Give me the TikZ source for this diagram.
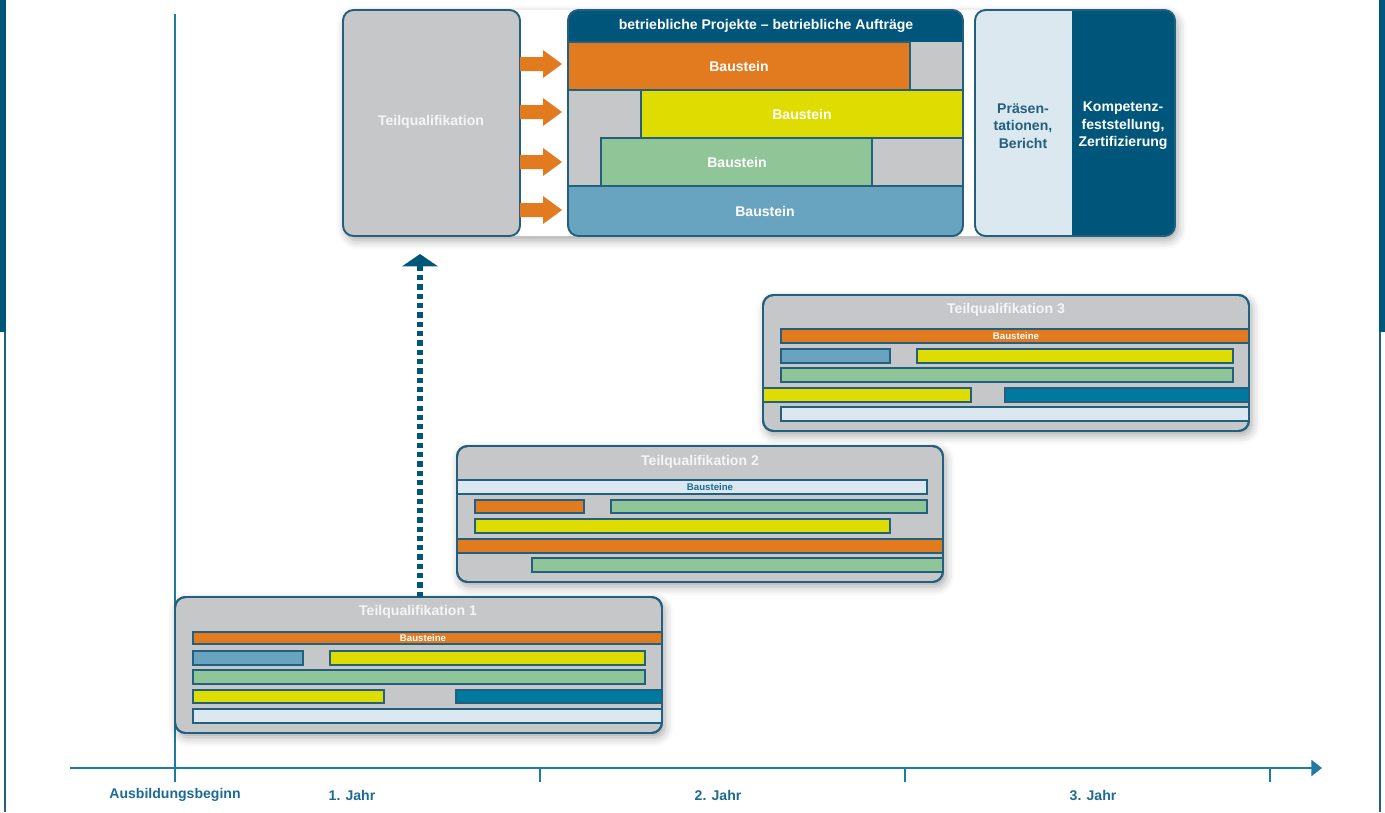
\documentclass[tikz,border=0pt]{standalone}
\usepackage{fontspec}
\setmainfont{Liberation Sans}
\usepackage{tikz}
\usetikzlibrary{arrows.meta, shadows.blur}
\definecolor{navyc}{HTML}{00557A}
\definecolor{borderc}{HTML}{235F7E}
\definecolor{axisc}{HTML}{1F7BA3}
\definecolor{labelc}{HTML}{1C6B93}
\definecolor{grayc}{HTML}{C6C7C9}
\definecolor{orangec}{HTML}{E27A20}
\definecolor{yellowc}{HTML}{DEDC00}
\definecolor{greenc}{HTML}{90C697}
\definecolor{bluec}{HTML}{68A3BF}
\definecolor{tealc}{HTML}{0079A1}
\definecolor{lightc}{HTML}{DCE8F0}

\begin{document}
\begin{tikzpicture}[x=0.02cm, y=-0.02cm,
		font=\fontsize{8}{10}\selectfont\bfseries,
		tqbox/.style={
			fill=grayc,
			draw=borderc, line width=1.1pt,
			rounded corners=6pt},
		tqframe/.style={draw=borderc, line width=1.1pt, rounded corners=6pt},
		shadowed/.style={blur shadow={shadow xshift=1.5pt, shadow yshift=-2.5pt,
			shadow opacity=35, shadow blur radius=5pt}},
		bar/.style={draw=borderc, line width=0.7pt},
		title/.style={text=white!92!gray},
		small/.style={font=\fontsize{5.5}{6.5}\selectfont\bfseries},
		axis/.style={draw=axisc, line width=1.4pt},
		dotarrow/.style={draw=navyc, line width=3.6pt, dash pattern=on 3pt off 2.3pt,
			-{Triangle[width=20pt, length=7pt]}},
		blockarrow/.style={fill=orangec}]
		\useasboundingbox (0,0) rectangle (1385,812);
		% page edges
		\fill[navyc] (0,0) rectangle (6,332);
		\draw[borderc, line width=0.6pt] (5,332) -- (5,812);
		\fill[navyc] (1379,0) rectangle (1385,332);
		\draw[borderc, line width=0.6pt] (1380,332) -- (1380,812);
		% time axis
		\coordinate (ytop) at (175,14);
		\coordinate (ybot) at (175,782);
		\coordinate (xstart) at (70,768);
		\coordinate (xend) at (1322,768);
		\draw[axis] (ytop) -- (ybot);
		\draw[axis, -{Triangle[width=9pt, length=6pt]}] (xstart) -- (xend);
		\draw[axis] (540,768) -- (540,782);
		\draw[axis] (905,768) -- (905,782);
		\draw[axis] (1270,768) -- (1270,782);
		\node[text=labelc] (beginn) at (175,795) {Ausbildungsbeginn};
		\node[text=labelc] (jahr1) at (352,795) {1. Jahr};
		\node[text=labelc] (jahr2) at (718,795) {2. Jahr};
		\node[text=labelc] (jahr3) at (1093,795) {3. Jahr};
		% top block
		\path[fill=white, shadowed, rounded corners=7pt] (343,10) rectangle (1175,236);
		\draw[tqbox] (343,10) rectangle (520,236);
		\node[title] (tqall) at (431,122) {Teilqualifikation};
		\fill[blockarrow] (520,57) -- ++(23,0) -- ++(0,-7) -- ++(19,14) -- ++(-19,14) -- ++(0,-7) -- ++(-23,0) -- cycle;
		\fill[blockarrow] (520,105) -- ++(23,0) -- ++(0,-7) -- ++(19,14) -- ++(-19,14) -- ++(0,-7) -- ++(-23,0) -- cycle;
		\fill[blockarrow] (520,155) -- ++(23,0) -- ++(0,-7) -- ++(19,14) -- ++(-19,14) -- ++(0,-7) -- ++(-23,0) -- cycle;
		\fill[blockarrow] (520,203) -- ++(23,0) -- ++(0,-7) -- ++(19,14) -- ++(-19,14) -- ++(0,-7) -- ++(-23,0) -- cycle;
		\begin{scope}
			\clip[rounded corners=6pt] (568,10) rectangle (963,236);
			\fill[navyc] (568,10) rectangle (963,42);
			\fill[grayc] (568,42) rectangle (963,186);
			\draw[bar, fill=orangec] (568,42) rectangle (910,90);
			\draw[bar, fill=yellowc] (641,90) rectangle (963,138);
			\draw[bar, fill=greenc] (601,138) rectangle (872,186);
			\draw[bar, fill=bluec] (568,186) rectangle (963,236);
		\end{scope}
		\draw[tqframe] (568,10) rectangle (963,236);
		\node[text=white] (auftraege) at (766,26) {betriebliche Projekte – betriebliche Aufträge};
		\node[text=white] (bst1) at (739,66) {Baustein};
		\node[text=white] (bst2) at (802,114) {Baustein};
		\node[text=white] (bst3) at (737,162) {Baustein};
		\node[text=white] (bst4) at (765,211) {Baustein};
		\begin{scope}
			\clip[rounded corners=6pt] (975,10) rectangle (1175,236);
			\fill[lightc] (975,10) rectangle (1072,236);
			\fill[navyc] (1072,10) rectangle (1175,236);
		\end{scope}
		\draw[tqframe] (975,10) rectangle (1175,236);
		\node[text=borderc, align=center] (praes) at (1023,126) {Präsen-\\tationen,\\Bericht};
		\node[text=white, align=center] (kompetenz) at (1123,126) {Kompetenz-\\feststellung,\\Zertifizierung};
		% Teilqualifikation 3
		\draw[tqbox, shadowed] (763,295) rectangle (1249,431);
		\node[title] (tq3) at (1006,310) {Teilqualifikation 3};
		\draw[bar, fill=orangec] (781,329) rectangle (1249,343);
		\node[small, text=white] (bs3) at (1016,336) {Bausteine};
		\draw[bar, fill=bluec] (781,349) rectangle (890,363);
		\draw[bar, fill=yellowc] (917,349) rectangle (1233,363);
		\draw[bar, fill=greenc] (781,368) rectangle (1233,382);
		\draw[bar, fill=yellowc] (763,388) rectangle (971,402);
		\draw[bar, fill=tealc] (1005,388) rectangle (1249,402);
		\draw[bar, fill=lightc] (781,407) rectangle (1249,421);
		\draw[tqframe] (763,295) rectangle (1249,431);
		% Teilqualifikation 2
		\draw[tqbox, shadowed] (457,446) rectangle (943,582);
		\node[title] (tq2) at (700,462) {Teilqualifikation 2};
		\draw[bar, fill=lightc] (457,480) rectangle (927,494);
		\node[small, text=labelc] (bs2) at (710,487) {Bausteine};
		\draw[bar, fill=orangec] (475,500) rectangle (584,513);
		\draw[bar, fill=greenc] (611,500) rectangle (927,513);
		\draw[bar, fill=yellowc] (475,519) rectangle (890,533);
		\draw[bar, fill=orangec] (457,539) rectangle (943,553);
		\draw[bar, fill=greenc] (532,558) rectangle (943,572);
		\draw[tqframe] (457,446) rectangle (943,582);
		% Teilqualifikation 1
		\draw[tqbox, shadowed] (175,597) rectangle (662,733);
		\node[title] (tq1) at (418,612) {Teilqualifikation 1};
		\draw[bar, fill=orangec] (193,632) rectangle (662,644);
		\node[small, text=white] (bs1) at (423,638) {Bausteine};
		\draw[bar, fill=bluec] (193,651) rectangle (303,665);
		\draw[bar, fill=yellowc] (330,651) rectangle (645,665);
		\draw[bar, fill=greenc] (193,670) rectangle (645,684);
		\draw[bar, fill=yellowc] (193,690) rectangle (384,703);
		\draw[bar, fill=tealc] (456,690) rectangle (662,703);
		\draw[bar, fill=lightc] (193,709) rectangle (662,723);
		\draw[tqframe] (175,597) rectangle (662,733);
		% path to the top block
		\coordinate (tq1top) at (420,597);
		\coordinate (arrtip) at (420,254);
		\draw[dotarrow] (tq1top) -- (arrtip);
	\end{tikzpicture}
\end{document}
